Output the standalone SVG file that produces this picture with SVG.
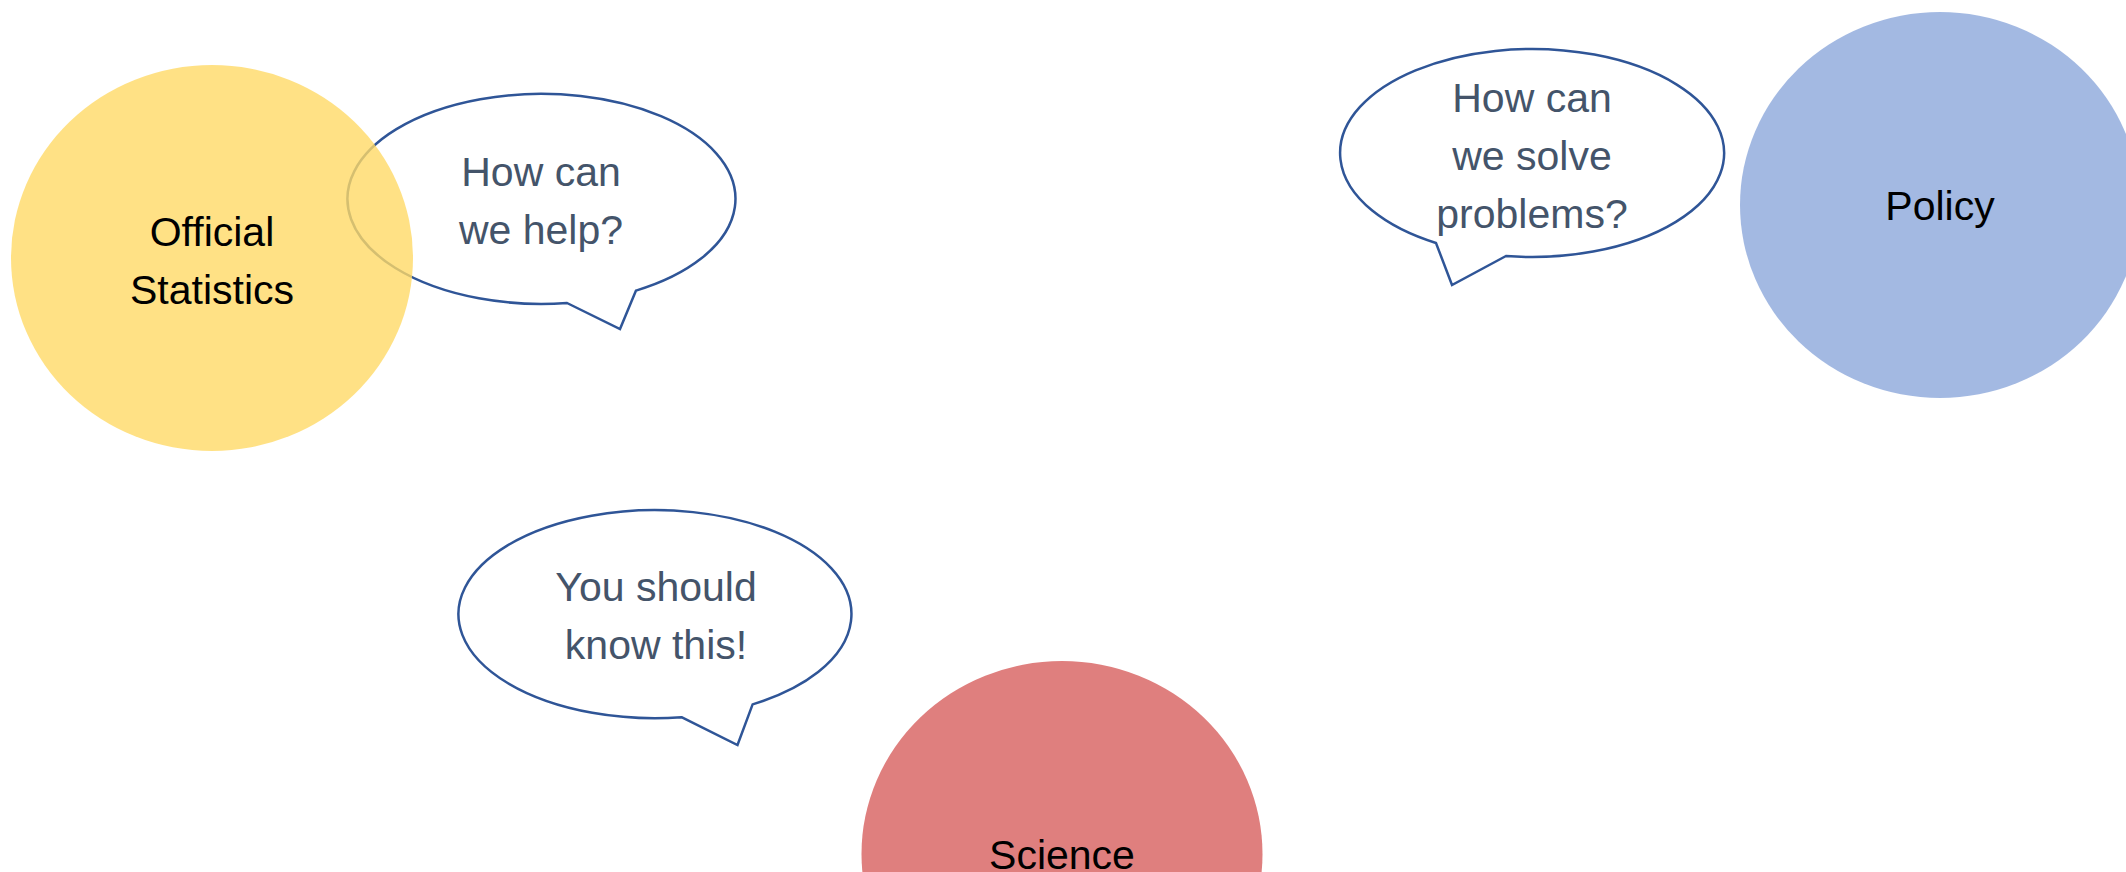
<svg xmlns="http://www.w3.org/2000/svg" width="2126" height="872" viewBox="0 0 2126 872">
<style>
.bubble{fill:#FFFFFF;stroke:#2F5597;stroke-width:2.5;stroke-linejoin:miter}
.btxt{font-family:"Liberation Sans",Arial,sans-serif;font-size:41px;fill:#44546A;text-anchor:middle}
.ctxt{font-family:"Liberation Sans",Arial,sans-serif;font-size:41px;fill:#000000;text-anchor:middle}
</style>
<rect width="2126" height="872" fill="#FFFFFF"/>
<g id="bubble-help">
<path class="bubble" d="M 567,303 L 620,329 L 636,290.6 A 194 105 0 1 0 567,303 Z"/>
<text class="btxt" x="541" y="186">How can</text>
<text class="btxt" x="541" y="244">we help?</text>
</g>
<g id="official-statistics">
<ellipse cx="212" cy="258" rx="201" ry="193" fill="#FFD966" fill-opacity="0.8"/>
<text class="ctxt" x="212" y="246">Official</text>
<text class="ctxt" x="212" y="304">Statistics</text>
</g>
<g id="bubble-solve">
<path class="bubble" d="M 1506,256 L 1452,285 L 1436,243 A 192 104 0 1 1 1506,256 Z"/>
<text class="btxt" x="1532" y="112">How can</text>
<text class="btxt" x="1532" y="170">we solve</text>
<text class="btxt" x="1532" y="228">problems?</text>
</g>
<g id="policy">
<ellipse cx="1940" cy="205" rx="200" ry="193" fill="#8FAADC" fill-opacity="0.82"/>
<text class="ctxt" x="1940" y="220">Policy</text>
</g>
<g id="bubble-know">
<path class="bubble" d="M 681.5,717.2 L 737.5,745 L 752.6,704.4 A 196.5 104 0 1 0 681.5,717.2 Z"/>
<text class="btxt" x="656" y="601">You should</text>
<text class="btxt" x="656" y="659">know this!</text>
</g>
<g id="science">
<ellipse cx="1062" cy="854" rx="200.5" ry="193" fill="#DF7F7E"/>
<text class="ctxt" x="1062" y="869">Science</text>
</g>
<g id="connectors"></g>
</svg>
